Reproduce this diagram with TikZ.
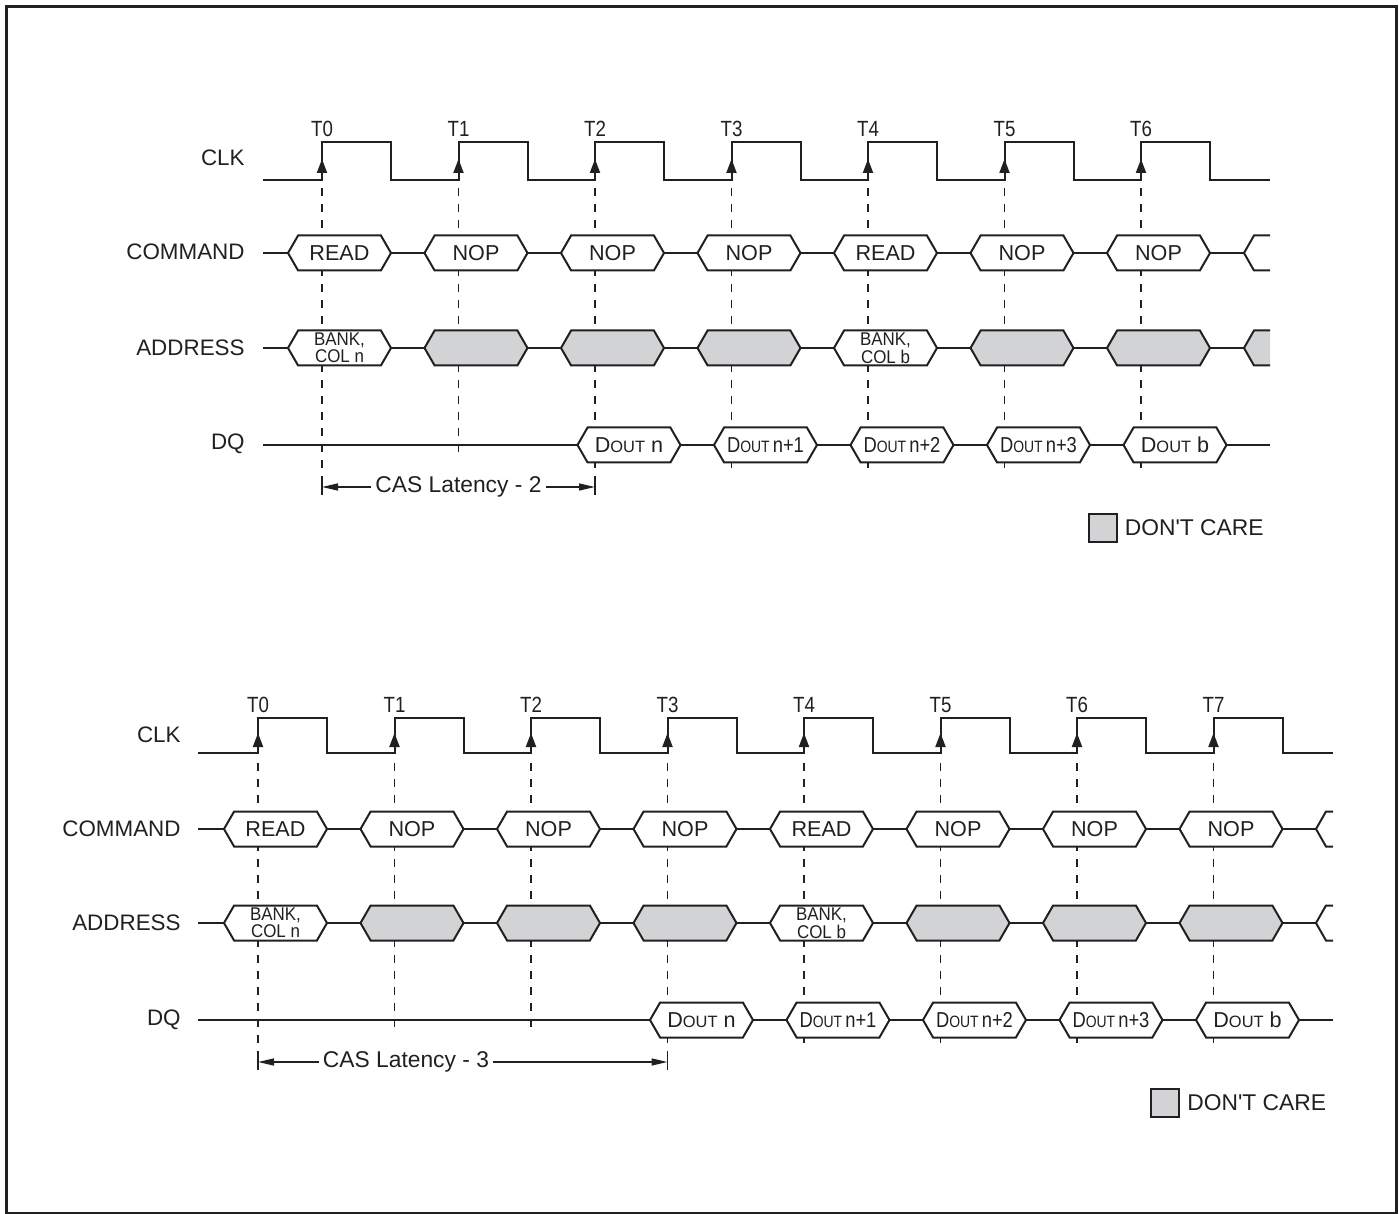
\documentclass[tikz,border=0pt]{standalone}
\usepackage{fontspec}
\setmainfont{Liberation Sans}
\usepackage{graphicx}
\usetikzlibrary{arrows.meta,positioning,shapes.symbols}

\definecolor{dcgray}{RGB}{209,211,212}
\definecolor{ink}{RGB}{35,31,32}

% data word and bank/column texts
\newcommand{\dout}[1]{D{\fontsize{8.2}{9}\selectfont OUT} #1}
\newcommand{\doutc}[1]{\scalebox{0.85}[1]{D{\fontsize{8.2}{9}\selectfont OUT}\,#1}}
\newcommand{\bankcol}[1]{\scalebox{0.92}[1]{BANK,}\\\scalebox{0.92}[1]{COL #1}}

\tikzset{
  wire/.style={line width=1pt},
  frame/.style={line width=1.5pt},
  tick/.style={line width=0.9pt, dash pattern=on 4pt off 4pt},
  edgearrow/.style={line width=1pt, -{Triangle[length=7pt,width=5pt]}},
  casarrow/.style={line width=0.75pt, -{Triangle[length=8pt,width=3.5pt]}},
  lbl/.style={anchor=east, inner sep=0pt, font=\fontsize{11.2}{13}\selectfont},
  tlbl/.style={inner sep=0pt, font=\fontsize{11}{13}\selectfont},
  caslbl/.style={inner sep=2pt, font=\fontsize{11.4}{13}\selectfont},
  bus/.style={shape=signal, signal to=west and east, signal pointer angle=120,
    draw, line width=1pt, fill=white, minimum width=51.5pt, minimum height=17.5pt,
    inner sep=0pt, font=\fontsize{10.8}{12}\selectfont},
  dc/.style={bus, fill=dcgray},
  addr/.style={bus, align=center, font=\fontsize{9.2}{7.6}\selectfont},
  legend/.style={draw, line width=1pt, fill=dcgray, minimum size=14pt, inner sep=0pt},
}

\begin{document}
\begin{tikzpicture}[x=0.5pt,y=-0.5pt,color=ink]
\useasboundingbox (0,0) rectangle (1399,1214);
% frame
\draw[frame] (6,7) rectangle (1396,1213);

% ---------- CAS latency 2 ----------
\begin{scope}[shift={(322,0)}]
  % row labels
  \node[lbl] (clkA) at (-77,158) {CLK};
  \node[lbl] (cmdA) at (-77,252) {COMMAND};
  \node[lbl] (adrA) at (-77,348) {ADDRESS};
  \node[lbl] (dqA) at (-77,444) {DQ};
  % dashed edge markers
  \foreach \i/\yend in {0/480,1/453,2/480,3/468,4/468,5/468,6/468}
    \draw[tick] ({\i*136.5},188) -- ({\i*136.5},\yend);
  % clock
  \draw[wire] (-59,180) \foreach \i in {0,...,6}{ -- ({\i*136.5},180) -- ++(0,-38) -- ++(69,0) -- ++(0,38)} -- (948,180);
  \foreach \i in {0,...,6}{
    \draw[edgearrow] ({\i*136.5},180) -- ({\i*136.5},159);
    \node[tlbl] (tA\i) at ({\i*136.5},129) {\scalebox{0.85}[1]{T\i}};
  }
  % bus lines
  \draw[wire] (-59,253) -- (922,253);
  \draw[wire] (-59,348) -- (922,348);
  \draw[wire] (-59,445) -- (948,445);
  % command
  \foreach \i/\cmd in {0/READ,1/NOP,2/NOP,3/NOP,4/READ,5/NOP,6/NOP}
    \node[bus] (cA\i) at ({\i*136.5+17.5},253) {\cmd};
  \draw[wire] (948,235.5) -- (932,235.5) -- (922,253) -- (932,270.5) -- (948,270.5);
  % address
  \node[addr] (aA0) at (17.5,348) {\bankcol{n}};
  \node[addr] (aA4) at ({4*136.5+17.5},348) {\bankcol{b}};
  \foreach \i in {1,2,3,5,6}
    \node[dc] (aA\i) at ({\i*136.5+17.5},348) {};
  \fill[dcgray] (948,330.5) -- (932,330.5) -- (922,348) -- (932,365.5) -- (948,365.5) -- cycle;
  \draw[wire] (948,330.5) -- (932,330.5) -- (922,348) -- (932,365.5) -- (948,365.5);
  % data
  \foreach \i/\word in {2/{\dout{n}},3/{\doutc{n+1}},4/{\doutc{n+2}},5/{\doutc{n+3}},6/{\dout{b}}}
    \node[bus] (dA\i) at ({\i*136.5+34},445) {\word};
  % latency
  \node[caslbl] (casA) at (136.5,487) {CAS Latency - 2};
  \draw[line width=0.75pt] (0,479) -- (0,495);
  \draw[line width=0.75pt] (273,479) -- (273,495);
  \draw[casarrow] (casA.west) -- (0,487);
  \draw[casarrow] (casA.east) -- (273,487);
  % legend
  \node[legend] (dcA) at (780.5,528) {};
  \node[caslbl, right=1.5pt of dcA] (dctA) {DON\textquotesingle T CARE};
\end{scope}

% ---------- CAS latency 3 ----------
\begin{scope}[shift={(258,575)}]
  % row labels
  \node[lbl] (clkB) at (-77,160) {CLK};
  \node[lbl] (cmdB) at (-77,254) {COMMAND};
  \node[lbl] (adrB) at (-77,348) {ADDRESS};
  \node[lbl] (dqB) at (-77,445) {DQ};
  % dashed edge markers
  \foreach \i/\yend in {0/480,1/455,2/455,3/480,4/468,5/468,6/468,7/468}
    \draw[tick] ({\i*136.5},188) -- ({\i*136.5},\yend);
  % clock
  \draw[wire] (-60,178) \foreach \i in {0,...,7}{ -- ({\i*136.5},178) -- ++(0,-35) -- ++(69,0) -- ++(0,35)} -- (1075,178);
  \foreach \i in {0,...,7}{
    \draw[edgearrow] ({\i*136.5},178) -- ({\i*136.5},158);
    \node[tlbl] (tB\i) at ({\i*136.5},130) {\scalebox{0.85}[1]{T\i}};
  }
  % bus lines
  \draw[wire] (-60,254) -- (1058,254);
  \draw[wire] (-60,348) -- (1058,348);
  \draw[wire] (-60,445) -- (1075,445);
  % command
  \foreach \i/\cmd in {0/READ,1/NOP,2/NOP,3/NOP,4/READ,5/NOP,6/NOP,7/NOP}
    \node[bus] (cB\i) at ({\i*136.5+17.5},254) {\cmd};
  \draw[wire] (1075,236.5) -- (1068,236.5) -- (1058,254) -- (1068,271.5) -- (1075,271.5);
  % address
  \node[addr] (aB0) at (17.5,348) {\bankcol{n}};
  \node[addr] (aB4) at ({4*136.5+17.5},348) {\bankcol{b}};
  \foreach \i in {1,2,3,5,6,7}
    \node[dc] (aB\i) at ({\i*136.5+17.5},348) {};
  \draw[wire] (1075,330.5) -- (1068,330.5) -- (1058,348) -- (1068,365.5) -- (1075,365.5);
  % data
  \foreach \i/\word in {3/{\dout{n}},4/{\doutc{n+1}},5/{\doutc{n+2}},6/{\doutc{n+3}},7/{\dout{b}}}
    \node[bus] (dB\i) at ({\i*136.5+34},445) {\word};
  % latency
  \node[caslbl] (casB) at (148,487) {CAS Latency - 3};
  \draw[line width=0.75pt] (0,479) -- (0,495);
  \draw[line width=0.75pt] (409.5,479) -- (409.5,495);
  \draw[casarrow] (casB.west) -- (0,487);
  \draw[casarrow] (casB.east) -- (409.5,487);
  % legend
  \node[legend] (dcB) at (907,528) {};
  \node[caslbl, right=1.5pt of dcB] (dctB) {DON\textquotesingle T CARE};
\end{scope}
\end{tikzpicture}
\end{document}
